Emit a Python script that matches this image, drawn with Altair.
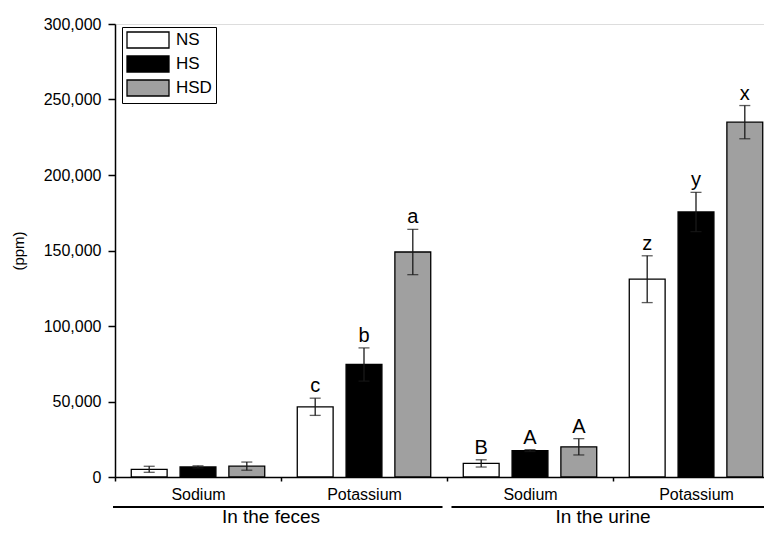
import altair as alt
import pandas as pd

# ---- data ----
categories = ["Sodium", "Potassium", "Sodium", "Potassium"]
groups = ["In the feces", "In the urine"]
group_start = [0, 2]
group_end = [2, 4]
treatments = ["NS", "HS", "HSD"]
colors = ["#FFFFFF", "#000000", "#A0A0A0"]

ns_mean = [5100, 46500, 9000, 131000]
ns_err = [2000, 5700, 2400, 15500]
hs_mean = [6700, 74500, 17500, 175500]
hs_err = [700, 11000, 600, 13000]
hsd_mean = [7200, 149000, 20000, 235000]
hsd_err = [2700, 15000, 5400, 11000]

ns_letters = ["", "c", "B", "z"]
hs_letters = ["", "b", "A", "y"]
hsd_letters = ["", "a", "A", "x"]

y_ticks = list(range(0, 300001, 25000))

rows = []
for t_i, (t, means, errs, lets) in enumerate(
    zip(treatments,
        [ns_mean, hs_mean, hsd_mean],
        [ns_err, hs_err, hsd_err],
        [ns_letters, hs_letters, hsd_letters])):
    for c_i, cat in enumerate(categories):
        rows.append(dict(treatment=t, t_index=t_i, c_index=c_i, category=cat,
                         mean=means[c_i], err=errs[c_i], letter=lets[c_i]))
df = pd.DataFrame(rows)
gdf = pd.DataFrame(dict(group=groups, start=group_start, end=group_end))

FONT = "Liberation Sans"
W, H = 649, 453
PX_PER_CAT = 166.0

xscale = alt.Scale(domain=[0, W / PX_PER_CAT], nice=False, zero=False, padding=0)
yscale = alt.Scale(domain=[0, 300000], nice=False, padding=0)

label_list = "[" + ",".join("'" + c + "'" for c in categories) + "]"
xaxis = alt.Axis(
    title=None,
    values=[0, 0.5, 1, 1.5, 2, 2.5, 3, 3.5],
    labelExpr="datum.value % 1 === 0 ? '' : " + label_list + "[floor(datum.value)]",
    tickOpacity={"condition": {"test": "datum.value % 1 === 0", "value": 1}, "value": 0},
    tickSize=4, tickWidth=1.5, tickColor="black",
    domainColor="black", domainWidth=1.5,
    labelFontSize=16, labelColor="black", labelFont=FONT, labelPadding=5,
    labelOverlap=False, labelFlush=False, grid=False,
)
yaxis = alt.Axis(
    title="(ppm)", titleFont=FONT, titleFontSize=15, titleFontWeight="normal",
    titleColor="black", titleX=-97, titleY=H / 2, titleAngle=-90,
    titleAlign="center", titleBaseline="middle",
    values=y_ticks,
    labelExpr="datum.value % 50000 === 0 ? format(datum.value, ',') : ''",
    tickSize={"condition": {"test": "datum.value % 50000 === 0", "value": 7}, "value": 4},
    tickWidth=1.5, tickColor="black",
    domainColor="black", domainWidth=1.5,
    labelFontSize=16, labelColor="black", labelFont=FONT, labelPadding=7,
    labelOverlap=False, grid=False,
)

legend = alt.Legend(
    title=None, orient="none", legendX=7, legendY=3,
    strokeColor="black", fillColor="white", padding=4,
    symbolType="M-1,-1H4.25V1H-1Z", symbolSize=256,
    symbolStrokeColor="black", symbolStrokeWidth=1.3, symbolOpacity=1,
    labelFont=FONT, labelFontSize=17, labelColor="black", labelOffset=32,
    rowPadding=2,
)

base = alt.Chart(df).transform_calculate(
    center="datum.c_index + 0.5 + (datum.t_index - 1) * 0.294",
).transform_calculate(
    left="datum.center - 0.108",
    right="datum.center + 0.108",
    lo="datum.mean - datum.err",
    hi="datum.mean + datum.err",
)

bars = base.mark_bar(stroke="black", strokeWidth=1.3).encode(
    x=alt.X("left:Q", scale=xscale, axis=xaxis),
    x2="right:Q",
    y=alt.Y("mean:Q", scale=yscale, axis=yaxis),
    y2=alt.datum(0),
    fill=alt.Fill("treatment:N", scale=alt.Scale(domain=treatments, range=colors),
                  legend=legend, sort=treatments),
)

err_rule = base.mark_rule(color="#1a1a1a", strokeWidth=1.3).encode(
    x="center:Q", y="lo:Q", y2="hi:Q",
)
cap_lo = base.mark_tick(orient="horizontal", size=11, thickness=1.3, color="#1a1a1a").encode(
    x="center:Q", y="lo:Q",
)
cap_hi = base.mark_tick(orient="horizontal", size=11, thickness=1.3, color="#1a1a1a").encode(
    x="center:Q", y="hi:Q",
)
letters = base.transform_filter("datum.letter !== ''").mark_text(
    font=FONT, fontSize=20, color="black", baseline="alphabetic", align="center", dy=-6,
).encode(x="center:Q", y="hi:Q", text="letter:N")

gbase = alt.Chart(gdf).transform_calculate(
    gx="datum.start + (datum.start > 0 ? 0.027 : -0.012)",
    gx2="datum.end - 0.027",
    mid="(datum.start + datum.end) / 2",
)
group_lines = gbase.mark_rule(color="black", strokeWidth=2).encode(
    x="gx:Q", x2="gx2:Q", y=alt.value(483),
)
group_text = gbase.mark_text(
    font=FONT, fontSize=19, color="black", baseline="alphabetic", align="center", dx=-10,
).encode(x="mid:Q", y=alt.value(499), text="group:N")

chart = alt.layer(
    bars, err_rule, cap_lo, cap_hi, letters, group_lines, group_text
).properties(
    width=W, height=H,
    autosize=alt.AutoSizeParams(type="none"),
    padding={"left": 107, "top": 16, "right": 0, "bottom": 52},
).configure_view(stroke="white", strokeOpacity=0, strokeWidth=0).configure_axis(
    grid=False
).configure(font=FONT, background="white")

chart.save("out.html", embed_options={"renderer": "svg", "actions": False})
